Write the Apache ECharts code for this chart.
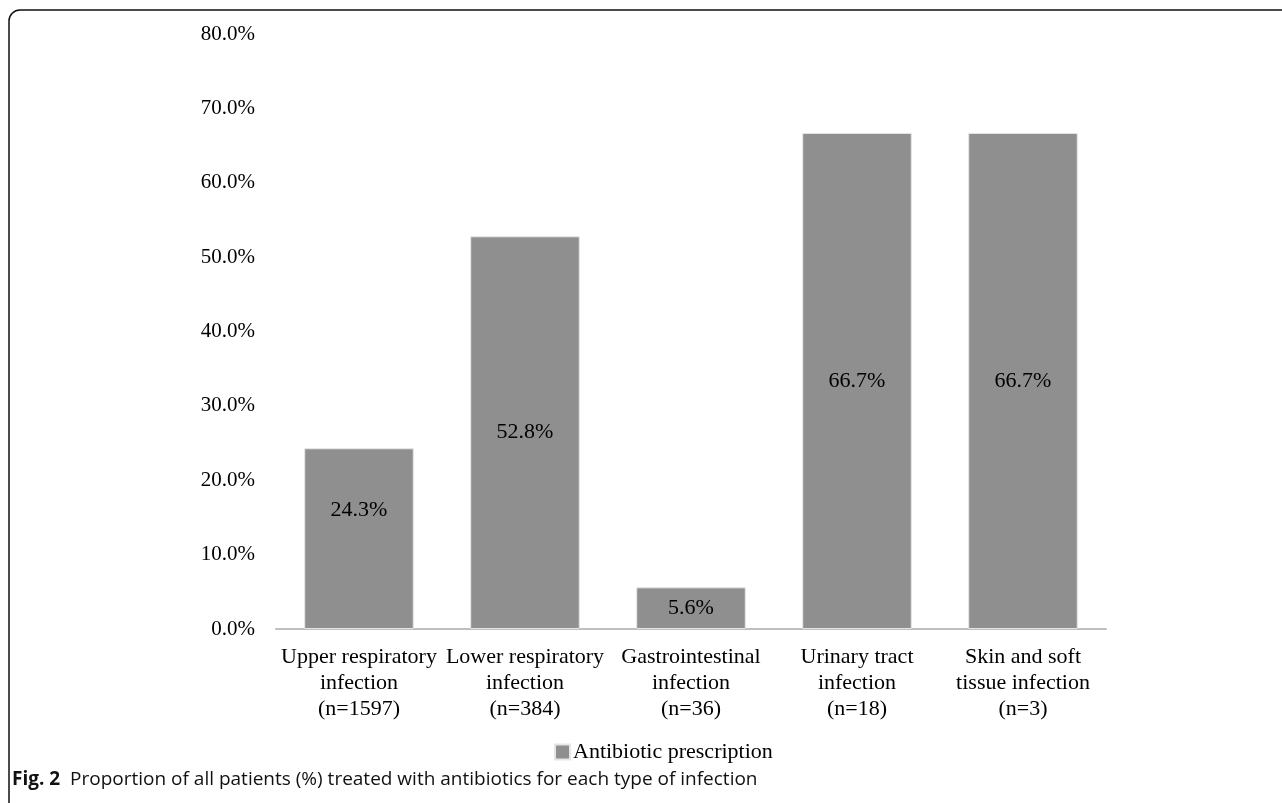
<!DOCTYPE html>
<html style="height: 100%">
<head>
    <meta charset="utf-8">
</head>
<body style="height: 100%; margin: 0; background: #fff">
<div id="container" style="width: 1282px; height: 803px"></div>

<script type="text/javascript" src="https://cdn.jsdelivr.net/npm/echarts@6/dist/echarts.min.js"></script>
<script type="text/javascript">
    // categories and the share of patients given antibiotics (%)
    var categories = [
        'Upper respiratory\ninfection\n(n=1597)',
        'Lower respiratory\ninfection\n(n=384)',
        'Gastrointestinal\ninfection\n(n=36)',
        'Urinary tract\ninfection\n(n=18)',
        'Skin and soft\ntissue infection\n(n=3)'
    ];
    var antibioticValues = [24.3, 52.8, 5.6, 66.7, 66.7];
    var seriesName = 'Antibiotic prescription';
    var captionBold = 'Fig. 2';
    var captionText = 'Proportion of all patients (%) treated with antibiotics for each type of infection';

    var dom = document.getElementById('container');
    var myChart = echarts.init(dom);
    var serif = '"Liberation Serif", "Times New Roman", serif';
    var sans = '"Open Sans", "Noto Sans", sans-serif';

    var option = {
        backgroundColor: '#fff',
        animation: false,
        grid: {
            left: 276,
            right: 176,
            top: 34,
            bottom: 174
        },
        xAxis: {
            type: 'category',
            data: categories,
            axisLine: { lineStyle: { color: '#bfbfbf', width: 2 } },
            axisTick: { show: false },
            axisLabel: {
                color: '#000',
                fontFamily: serif,
                fontSize: 22,
                lineHeight: 26,
                margin: 15,
                interval: 0
            }
        },
        yAxis: {
            type: 'value',
            min: 0,
            max: 80,
            interval: 10,
            splitLine: { show: false },
            axisLine: { show: false },
            axisTick: { show: false },
            axisLabel: {
                color: '#000',
                fontFamily: serif,
                fontSize: 21,
                margin: 21,
                formatter: function (v) { return v.toFixed(1) + '%'; }
            }
        },
        legend: {
            left: 549,
            top: 736,
            itemWidth: 15,
            itemHeight: 15,
            itemGap: 4,
            icon: 'rect',
            textStyle: { color: '#000', fontFamily: serif, fontSize: 22, padding: [0, 0, 0, -2] },
            data: [seriesName]
        },
        series: [{
            name: seriesName,
            type: 'bar',
            barCategoryGap: '34%',
            itemStyle: { color: '#8f8f8f', borderColor: '#e6e6e6', borderWidth: 1 },
            data: antibioticValues.map(function (v, i) {
                // the first label sits a little above the middle of its bar
                return i === 0 ? { value: v, label: { offset: [0, -28] } } : v;
            }),
            label: {
                show: true,
                position: 'inside',
                color: '#000',
                fontFamily: serif,
                fontSize: 22,
                formatter: function (p) { return p.value.toFixed(1) + '%'; }
            }
        }],
        graphic: [
            {
                type: 'rect',
                shape: { x: 9, y: 10, width: 1400, height: 900, r: [11, 0, 0, 0] },
                style: { fill: null, stroke: '#111', lineWidth: 1.5 },
                silent: true
            },
            {
                type: 'text',
                left: 12,
                top: 770,
                style: {
                    text: '{b|' + captionBold + '}  ' + captionText,
                    fontFamily: sans,
                    fontSize: 19,
                    fill: '#111',
                    rich: {
                        b: { fontWeight: 'bold', fontFamily: sans, fontSize: 19, fill: '#111' }
                    }
                }
            }
        ]
    };

    myChart.setOption(option);
</script>
</body>
</html>
